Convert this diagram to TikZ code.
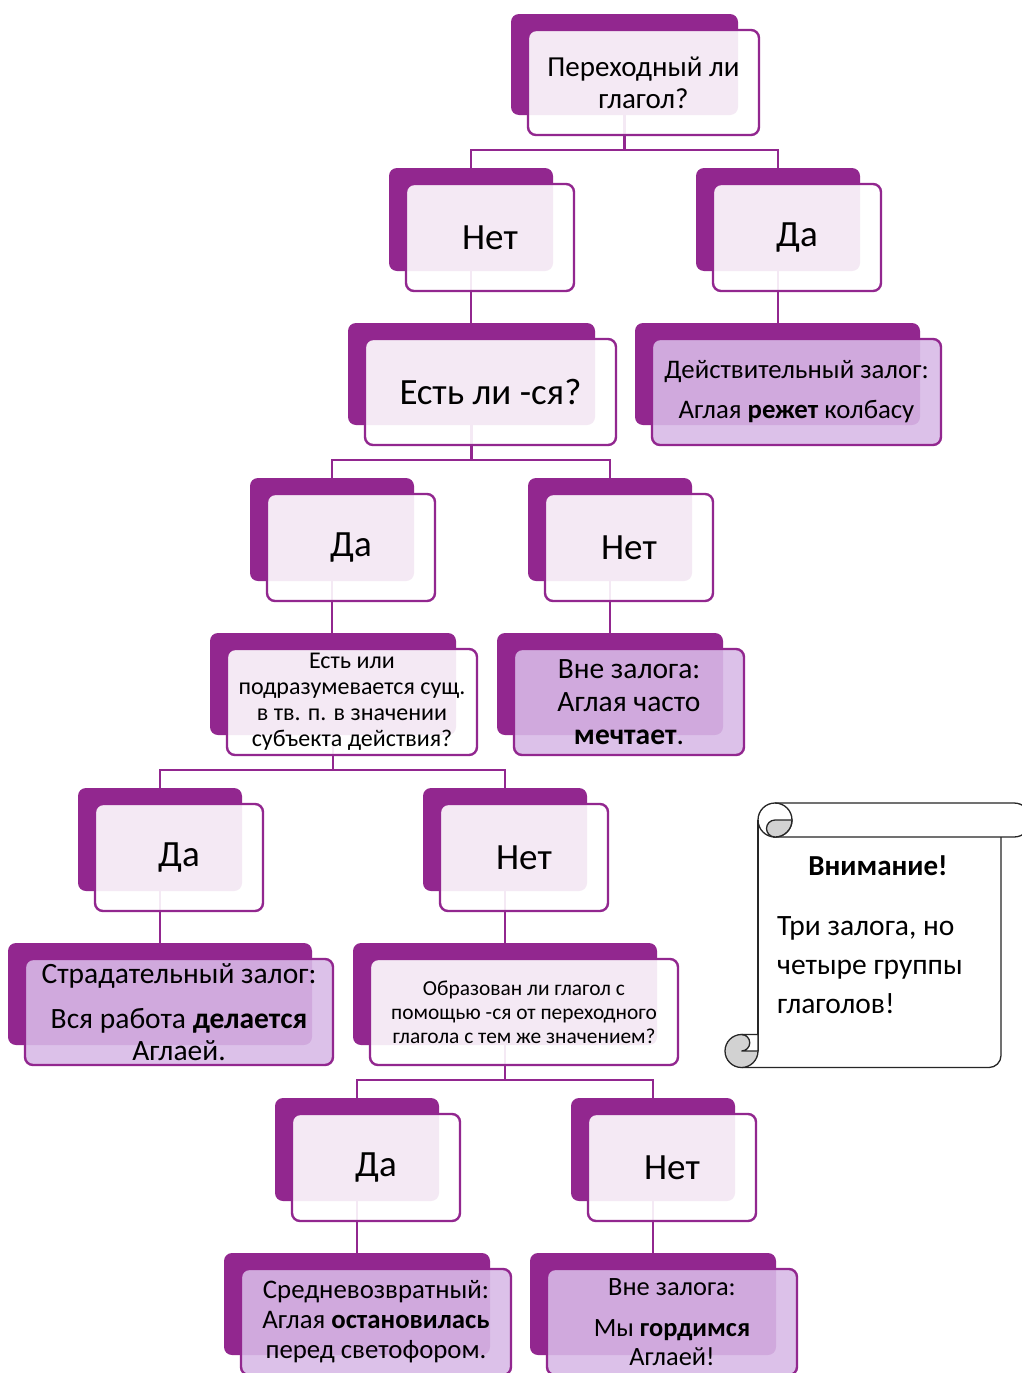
\documentclass[tikz,border=0pt]{standalone}
\usepackage{fontspec}
\setmainfont{Carlito}
\pgfdeclarelayer{bg}
\pgfsetlayers{bg,main}
\definecolor{plum}{HTML}{92278F}
\definecolor{leaffill}{HTML}{D8BAE7}
\definecolor{curl}{HTML}{D2D2D2}
\newcommand\setfs[2]{\fontsize{#1}{#2}\selectfont}
\tikzset{
  backbox/.style={fill=plum, rounded corners=8pt, inner sep=0pt, outer sep=0pt},
  qfront/.style={draw=plum, line width=2.4pt, fill=white, fill opacity=0.9,
    rounded corners=8pt, inner sep=0pt, outer sep=0pt},
  leaffront/.style={draw=plum, line width=2.4pt, fill=leaffill, fill opacity=0.89,
    rounded corners=8pt, inner sep=0pt, outer sep=0pt},
  boxtext/.style={align=center, inner sep=0pt, text=black},
  conn/.style={draw=plum, line width=2.8pt},
  sline/.style={draw=black!85, line width=1.3pt},
}
% #1 name, #2..#5 back box corners, #6 front style, #7 font, #8 text
\newcommand\tbox[8]{%
  \node[backbox, minimum width={#4-#2}, minimum height={#5-#3}] (#1b)
    at ({(#2+#4)/2},{(#3+#5)/2}) {};
  \node[#6, minimum width={#4-#2+4}, minimum height={#5-#3+4}] (#1)
    at ({(#2+#4)/2+19},{(#3+#5)/2+18}) {};
  \node[boxtext, font=#7] (#1t) at (#1.center) {#8};
}
\begin{document}
\begin{tikzpicture}[x=1pt,y=-1pt]
\useasboundingbox (0,0) rectangle (1022,1373);
\begin{pgfonlayer}{bg}
  \fill[white] (0,0) rectangle (1022,1373);
\end{pgfonlayer}

% decision tree
\tbox{q1}{511}{14}{738}{115}{qfront}{\setfs{29}{32}}{Переходный ли\\глагол?}
\tbox{n1}{389}{168}{553}{271}{qfront}{\setfs{37}{40}}{Нет}
\tbox{y1}{696}{168}{860}{271}{qfront}{\setfs{37}{40}}{Да}
\tbox{q2}{348}{323}{595}{425}{qfront}{\setfs{37}{40}}{Есть ли -ся?}
\tbox{r1}{635}{323}{920}{425}{leaffront}{\setfs{26.8}{28}}{Действительный залог:\\[12pt]Аглая \textbf{режет} колбасу}
\tbox{y2}{250}{478}{414}{581}{qfront}{\setfs{37}{40}}{Да}
\tbox{n2}{528}{478}{692}{581}{qfront}{\setfs{37}{40}}{Нет}
\tbox{q3}{210}{633}{456}{735}{qfront}{\setfs{24}{26}}{Есть или\\подразумевается сущ.\\в тв. п. в значении\\субъекта действия?}
\tbox{r2}{497}{633}{723}{735}{leaffront}{\setfs{29.5}{33}}{Вне залога:\\Аглая часто\\\textbf{мечтает}.}
\tbox{y3}{78}{788}{242}{891}{qfront}{\setfs{37}{40}}{Да}
\tbox{n3}{423}{788}{587}{891}{qfront}{\setfs{37}{40}}{Нет}
\tbox{r3}{8}{943}{312}{1045}{leaffront}{\setfs{29.5}{32}}{Страдательный залог:\\[13pt]Вся работа \textbf{делается}\\Аглаей.}
\tbox{q4}{353}{943}{657}{1045}{qfront}{\setfs{21.4}{24}}{Образован ли глагол с\\помощью -ся от переходного\\глагола с тем же значением?}
\tbox{y4}{275}{1098}{439}{1201}{qfront}{\setfs{37}{40}}{Да}
\tbox{n4}{571}{1098}{735}{1201}{qfront}{\setfs{37}{40}}{Нет}
\tbox{r4}{224}{1253}{490}{1355}{leaffront}{\setfs{26.8}{30}}{Средневозвратный:\\Аглая \textbf{остановилась}\\перед светофором.}
\tbox{r5}{530}{1253}{776}{1355}{leaffront}{\setfs{26.4}{29}}{Вне залога:\\[12pt]Мы \textbf{гордимся}\\Аглаей!}

% junction points of the branches
\coordinate (j1) at (624.5,150);
\coordinate (j2) at (471.5,460);
\coordinate (j3) at (333,770);
\coordinate (j4) at (505,1080);

\begin{pgfonlayer}{bg}
  \draw[conn] (q1b.south) -- (j1);
  \draw[conn] (n1b.north) |- (j1) -| (y1b.north);
  \draw[conn] (n1b.south) -- (n1b.south |- q2b.north);
  \draw[conn] (y1b.south) -- (y1b.south |- r1b.north);
  \draw[conn] (q2b.south) -- (j2);
  \draw[conn] (y2b.north) |- (j2) -| (n2b.north);
  \draw[conn] (y2b.south) -- (y2b.south |- q3b.north);
  \draw[conn] (n2b.south) -- (n2b.south |- r2b.north);
  \draw[conn] (q3b.south) -- (j3);
  \draw[conn] (y3b.north) |- (j3) -| (n3b.north);
  \draw[conn] (y3b.south) -- (y3b.south |- r3b.north);
  \draw[conn] (n3b.south) -- (n3b.south |- q4b.north);
  \draw[conn] (q4b.south) -- (j4);
  \draw[conn] (y4b.north) |- (j4) -| (n4b.north);
  \draw[conn] (y4b.south) -- (y4b.south |- r4b.north);
  \draw[conn] (n4b.south) -- (n4b.south |- r5b.north);
\end{pgfonlayer}

% scroll with the note
\draw[sline] (775,803) -- (1014,803) arc[start angle=-90, end angle=90, radius=17] -- (773,837);
\draw[sline] (1001,837) -- (1001,1055.5) arc[start angle=0, end angle=90, radius=12] -- (741.5,1067.5);
\draw[sline] (758,820) -- (758,1051);
\draw[sline] (775,820) circle[radius=17];
\filldraw[sline, fill=curl] (775,820) -- (792,820) arc[start angle=0, end angle=90, radius=17]
  arc[start angle=90, end angle=270, radius=8.5] -- cycle;
\filldraw[sline, fill=curl] (741.5,1051) circle[radius=16.5];
\filldraw[sline, fill=white] (758,1034.5) -- (741.5,1034.5)
  arc[start angle=270, end angle=450, radius=8.25] -- (758,1051) -- cycle;
\node[inner sep=0pt, font=\bfseries\setfs{29}{30}] (warnh) at (878,866) {Внимание!};
\node[inner sep=0pt, anchor=west, align=left, font=\setfs{29.5}{39}] (warnt) at (777,965)
  {Три залога, но\\четыре группы\\глаголов!};
\end{tikzpicture}
\end{document}
